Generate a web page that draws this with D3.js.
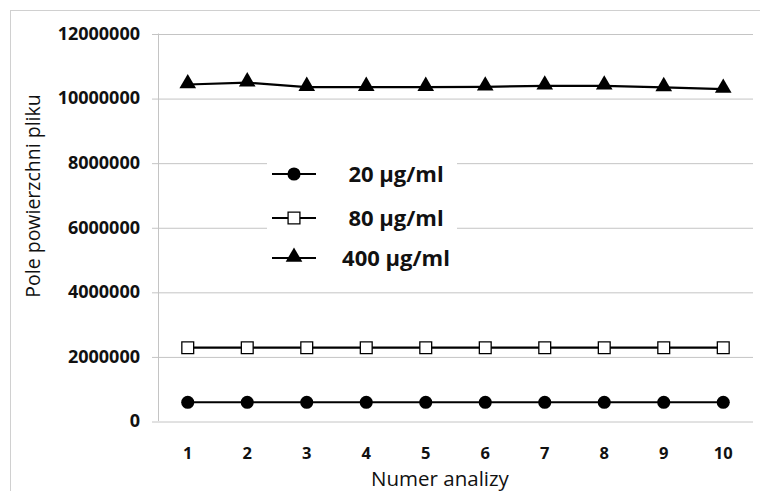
<!DOCTYPE html>
<html>
<head>
<meta charset="utf-8">
<script src="https://cdn.jsdelivr.net/npm/d3@7"></script>
<style>
  body { margin: 0; background: #fff; }
  svg { display: block; font-family: "Open Sans", sans-serif; }
</style>
</head>
<body>
<div id="chart"></div>
<script>
// data
var analyses = ["1", "2", "3", "4", "5", "6", "7", "8", "9", "10"];
var s20 = [580000, 580000, 580000, 580000, 580000, 580000, 580000, 580000, 580000, 580000];
var s80 = [2270000, 2270000, 2270000, 2270000, 2270000, 2270000, 2270000, 2270000, 2270000, 2270000];
var s400 = [10420000, 10480000, 10340000, 10340000, 10340000, 10350000, 10380000, 10380000, 10330000, 10280000];
var yTicks = [0, 2000000, 4000000, 6000000, 8000000, 10000000, 12000000];
var seriesNames = ["20 µg/ml", "80 µg/ml", "400 µg/ml"];

var svgWidth = 760, svgHeight = 491;
var margin = {top: 33.5, right: 7, bottom: 70, left: 158};
var width = svgWidth - margin.left - margin.right;
var height = svgHeight - margin.top - margin.bottom;

var svg = d3.select("#chart").append("svg")
    .attr("width", svgWidth)
    .attr("height", svgHeight);

// outer chart frame
svg.append("rect")
    .attr("x", 10.5).attr("y", 10.5)
    .attr("width", 800).attr("height", 600)
    .attr("fill", "none")
    .attr("stroke", "#d0d0d0");

var g = svg.append("g")
    .attr("transform", "translate(" + margin.left + "," + margin.top + ")");

var x = d3.scaleBand().domain(analyses).range([0, width]);
var y = d3.scaleLinear().domain([0, 12000000]).range([height, 0]);

// gridlines with small tick stubs to the left
g.append("g")
    .attr("class", "grid")
    .call(d3.axisLeft(y).tickValues(yTicks).tickSize(-width - 6).tickFormat(""))
    .attr("transform", "translate(-6,0)")
    .call(a => a.select(".domain").remove())
    .selectAll("line")
    .attr("stroke", "#c4c4c4")
    .attr("transform", "translate(0,0.5)");

// left axis line
g.append("line")
    .attr("x1", 0.5).attr("x2", 0.5)
    .attr("y1", 0).attr("y2", height)
    .attr("stroke", "#c4c4c4");

// y tick labels
g.append("g")
    .call(d3.axisLeft(y).tickValues(yTicks).tickSize(0).tickPadding(18).tickFormat(d3.format("d")))
    .call(a => a.select(".domain").remove())
    .selectAll("text")
    .attr("font-family", "Open Sans, sans-serif")
    .attr("font-weight", "bold")
    .attr("font-size", "18px")
    .attr("fill", "#111");

// x tick labels
g.append("g")
    .attr("transform", "translate(0," + height + ")")
    .call(d3.axisBottom(x).tickSize(0).tickPadding(26))
    .call(a => a.select(".domain").remove())
    .selectAll("text")
    .attr("font-family", "Open Sans, sans-serif")
    .attr("font-weight", "bold")
    .attr("font-size", "16.5px")
    .attr("fill", "#111");

var cx = d => x(d) + x.bandwidth() / 2;

function drawSeries(values, marker) {
    var line = d3.line()
        .x((d, i) => cx(analyses[i]))
        .y(d => y(d));
    g.append("path")
        .datum(values)
        .attr("fill", "none")
        .attr("stroke", "#000")
        .attr("stroke-width", 2.2)
        .attr("d", line);
    g.selectAll(null)
        .data(values)
        .enter()
        .append("path")
        .attr("transform", (d, i) => "translate(" + cx(analyses[i]) + "," + y(d) + ")")
        .call(marker);
}

var circleMark = sel => sel.attr("d", d3.symbol(d3.symbolCircle, 135)).attr("fill", "#000");
var squareMark = sel => sel.attr("d", d3.symbol(d3.symbolSquare, 140)).attr("fill", "#fff").attr("stroke", "#000").attr("stroke-width", 1.3);
var triMark = sel => sel.attr("d", d3.symbol(d3.symbolTriangle, 120)).attr("fill", "#000").attr("transform", function() {
    return d3.select(this).attr("transform") + " translate(0,-1)";
});

drawSeries(s20, circleMark);
drawSeries(s80, squareMark);
drawSeries(s400, triMark);

// legend
var legend = svg.append("g").attr("transform", "translate(267,150)");
legend.append("rect")
    .attr("width", 190).attr("height", 130)
    .attr("fill", "#fff");
var markers = [circleMark, squareMark, triMark];
var rowY = [24, 68, 108];
seriesNames.forEach(function(name, i) {
    var row = legend.append("g").attr("transform", "translate(0," + rowY[i] + ")");
    row.append("line")
        .attr("x1", 5).attr("x2", 49)
        .attr("stroke", "#000").attr("stroke-width", 2.2);
    row.append("path")
        .attr("transform", "translate(27,0)")
        .call(markers[i]);
    row.append("text")
        .attr("x", 129).attr("y", 8)
        .attr("text-anchor", "middle")
        .attr("font-weight", "bold")
        .attr("font-size", "22px")
        .attr("fill", "#111")
        .text(name);
});

// axis titles
svg.append("text")
    .attr("x", 440).attr("y", 486)
    .attr("text-anchor", "middle")
    .attr("font-size", "20.5px")
    .attr("fill", "#111")
    .text("Numer analizy");

svg.append("text")
    .attr("transform", "translate(40,196) rotate(-90)")
    .attr("text-anchor", "middle")
    .attr("font-size", "19.5px")
    .attr("fill", "#111")
    .text("Pole powierzchni pliku");
</script>
</body>
</html>
